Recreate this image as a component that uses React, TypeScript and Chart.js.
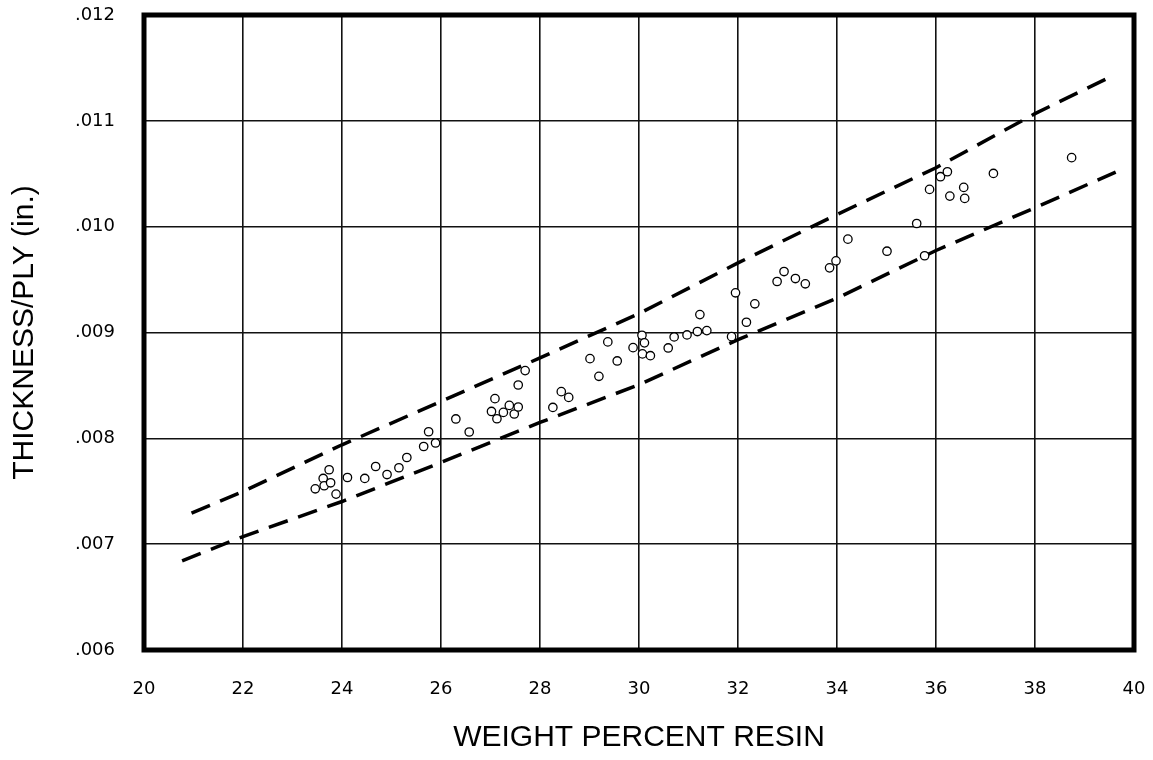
import React, { useEffect, useRef } from 'react';
import { Chart, registerables } from 'chart.js';

Chart.register(...registerables);

// Measured data points: weight percent resin vs thickness per ply (in.)
const resinPct = [
  23.46, 23.62, 23.64, 23.74, 23.77, 23.88, 24.11, 24.46, 24.68, 24.91,
  25.15, 25.31, 25.65, 25.75, 25.89, 26.30, 26.57, 27.09, 27.02, 27.13,
  27.26, 27.38, 27.48, 27.56, 27.56, 27.70, 28.26, 28.43, 28.58, 29.01,
  29.19, 29.37, 29.56, 29.88, 30.06, 30.11, 30.07, 30.23, 30.59, 30.71,
  30.97, 31.18, 31.23, 31.37, 31.87, 31.95, 32.17, 32.34, 32.79, 32.93,
  33.16, 33.36, 33.85, 33.98, 34.22, 35.01, 35.61, 35.77, 35.87, 36.09,
  36.23, 36.28, 36.56, 36.58, 37.16, 38.74,
];
const thickness = [
  0.007523, 0.007621, 0.007552, 0.007703, 0.007580, 0.007473, 0.007630, 0.007621, 0.007734, 0.007658,
  0.007722, 0.007819, 0.007923, 0.008062, 0.007956, 0.008183, 0.008060, 0.008375, 0.008254, 0.008185,
  0.008245, 0.008311, 0.008230, 0.008296, 0.008504, 0.008640, 0.008292, 0.008441, 0.008387, 0.008753,
  0.008586, 0.008911, 0.008731, 0.008857, 0.008974, 0.008902, 0.008798, 0.008781, 0.008854, 0.008958,
  0.008977, 0.009009, 0.009169, 0.009018, 0.008961, 0.009375, 0.009097, 0.009271, 0.009482, 0.009576,
  0.009510, 0.009460, 0.009611, 0.009677, 0.009882, 0.009768, 0.010030, 0.009725, 0.010352, 0.010472,
  0.010519, 0.010289, 0.010371, 0.010267, 0.010503, 0.010652,
];

// Upper and lower dashed bounds
const upperX = [20.96, 22, 24, 26, 28, 30, 32, 34, 36, 38, 39.45];
const upperY = [0.007293, 0.007498, 0.007939, 0.008349, 0.008760, 0.009179, 0.009658, 0.010115, 0.010557, 0.011068, 0.011399];
const lowerX = [20.77, 22, 24, 26, 28, 30, 32, 34, 36, 38, 39.63];
const lowerY = [0.006842, 0.007072, 0.007403, 0.007772, 0.008150, 0.008507, 0.008933, 0.009324, 0.009775, 0.010179, 0.010516];

// Ticks
const xTickValues = [20, 22, 24, 26, 28, 30, 32, 34, 36, 38, 40];
const xTickLabels = ['20', '22', '24', '26', '28', '30', '32', '34', '36', '38', '40'];
const yTickValues = [0.006, 0.007, 0.008, 0.009, 0.010, 0.011, 0.012];
const yTickLabels = ['.006', '.007', '.008', '.009', '.010', '.011', '.012'];

const xTitle = 'WEIGHT PERCENT RESIN';
const yTitle = 'THICKNESS/PLY (in.)';

const framePlugin = {
  id: 'frame',
  afterDraw(chart: any) {
    const { ctx, chartArea } = chart;
    const { left, top, right, bottom } = chartArea;
    ctx.save();
    ctx.strokeStyle = '#000';
    ctx.lineWidth = 5;
    ctx.strokeRect(left, top, right - left, bottom - top);
    ctx.restore();
  },
};

export default function App() {
  const canvasRef = useRef<HTMLCanvasElement | null>(null);

  useEffect(() => {
    document.body.style.margin = '0';
    const canvas = canvasRef.current;
    if (!canvas) return;

    const points = resinPct.map((x, i) => ({ x, y: thickness[i] }));
    const upper = upperX.map((x, i) => ({ x, y: upperY[i] }));
    const lower = lowerX.map((x, i) => ({ x, y: lowerY[i] }));

    const chart = new Chart(canvas, {
      type: 'scatter',
      data: {
        datasets: [
          {
            label: 'data',
            data: points,
            showLine: false,
            pointRadius: 4.2,
            pointBorderWidth: 1.3,
            pointBorderColor: '#000',
            pointBackgroundColor: '#fff',
            order: 0,
          },
          {
            label: 'upper',
            data: upper,
            showLine: true,
            pointRadius: 0,
            borderColor: '#000',
            borderWidth: 3.5,
            borderDash: [20, 11],
            tension: 0,
            fill: false,
            order: 1,
          },
          {
            label: 'lower',
            data: lower,
            showLine: true,
            pointRadius: 0,
            borderColor: '#000',
            borderWidth: 3.5,
            borderDash: [20, 11],
            tension: 0,
            fill: false,
            order: 2,
          },
        ],
      },
      options: {
        responsive: false,
        animation: false,
        layout: { padding: { top: 15, right: 19, left: 0, bottom: 0 } },
        plugins: {
          legend: { display: false },
          tooltip: { enabled: false },
          title: { display: false },
        },
        scales: {
          x: {
            type: 'linear',
            min: 20,
            max: 40,
            afterBuildTicks: (scale: any) => {
              scale.ticks = xTickValues.map((v) => ({ value: v }));
            },
            afterFit: (scale: any) => {
              scale.height = 110;
            },
            ticks: {
              padding: 0,
              color: '#000',
              font: { family: '"DejaVu Sans", sans-serif', size: 18 },
              maxRotation: 0,
              callback: (_v: any, i: number) => xTickLabels[i],
            },
            grid: {
              color: '#111',
              lineWidth: 1.6,
              drawTicks: true,
              tickLength: 29,
              tickColor: 'rgba(0,0,0,0)',
            },
            border: { display: false },
            title: {
              display: true,
              text: xTitle,
              color: '#000',
              font: { family: '"Liberation Sans", Arial, sans-serif', size: 30, lineHeight: 1 },
              padding: { top: 0, bottom: 7 },
            },
          },
          y: {
            type: 'linear',
            min: 0.006,
            max: 0.012,
            afterBuildTicks: (scale: any) => {
              scale.ticks = yTickValues.map((v) => ({ value: v }));
            },
            afterFit: (scale: any) => {
              scale.width = 144;
            },
            ticks: {
              padding: 0,
              color: '#000',
              font: { family: '"DejaVu Sans", sans-serif', size: 18 },
              callback: (_v: any, i: number) => yTickLabels[i],
            },
            grid: {
              color: '#111',
              lineWidth: 1.6,
              drawTicks: true,
              tickLength: 29,
              tickColor: 'rgba(0,0,0,0)',
            },
            border: { display: false },
            title: {
              display: true,
              text: yTitle,
              color: '#000',
              font: { family: '"Liberation Sans", Arial, sans-serif', size: 30, lineHeight: 1 },
              padding: { top: 10, bottom: 0 },
            },
          },
        },
      },
      plugins: [framePlugin],
    });

    return () => {
      chart.destroy();
    };
  }, []);

  return (
    <div style={{ width: 1153, height: 760, background: '#fff' }}>
      <canvas ref={canvasRef} width={1153} height={760} style={{ display: 'block' }} />
    </div>
  );
}
